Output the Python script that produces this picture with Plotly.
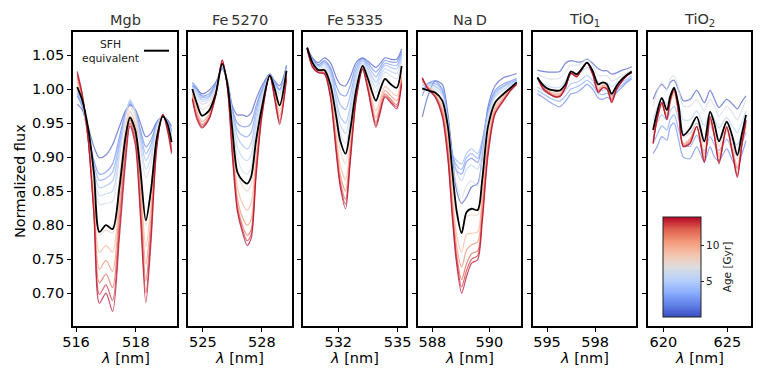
import plotly.graph_objects as go

# the page body keeps its default 8px margin, so the figure is drawn 16px smaller
# and every pixel position below is given in screenshot coordinates, shifted by OFF
OFF = 8
W, H = 763 - 2 * OFF, 382 - 2 * OFF

AGES = [0.5, 2.0, 3.0, 4.0, 5.2, 6.5, 8.0, 9.5, 11.0, 12.3, 13.2, 14.0]
AGE_MIN, AGE_MAX = 0.1, 14.0

PANEL_TITLES = ["Mgb", "Fe\u20095270", "Fe\u20095335", "Na\u2009D", "TiO<sub>1</sub>", "TiO<sub>2</sub>"]

# ---- Mgb ----
MGB_WL = [516.04, 516.2, 516.4, 516.6, 516.78, 517.0, 517.22, 517.45, 517.65, 517.8,
          517.98, 518.15, 518.33, 518.5, 518.7, 518.9, 519.05, 519.19]
MGB_FLUX = {
    0.5: [0.978, 0.970, 0.945, 0.915, 0.899, 0.903, 0.918, 0.945, 0.968, 0.976, 0.970, 0.950, 0.930, 0.935, 0.952, 0.960, 0.955, 0.945],
    2.0: [0.990, 0.975, 0.935, 0.895, 0.875, 0.878, 0.890, 0.930, 0.965, 0.978, 0.968, 0.940, 0.915, 0.925, 0.950, 0.960, 0.953, 0.940],
    3.0: [0.993, 0.978, 0.932, 0.888, 0.866, 0.869, 0.878, 0.922, 0.963, 0.980, 0.968, 0.935, 0.905, 0.918, 0.949, 0.960, 0.952, 0.938],
    4.0: [0.995, 0.980, 0.930, 0.880, 0.855, 0.858, 0.865, 0.915, 0.962, 0.982, 0.968, 0.930, 0.895, 0.910, 0.948, 0.960, 0.952, 0.937],
    5.2: [0.997, 0.982, 0.930, 0.872, 0.843, 0.846, 0.850, 0.908, 0.960, 0.984, 0.966, 0.922, 0.882, 0.900, 0.946, 0.960, 0.951, 0.934],
    6.5: [1.000, 0.985, 0.930, 0.865, 0.830, 0.832, 0.835, 0.900, 0.958, 0.985, 0.965, 0.915, 0.870, 0.890, 0.945, 0.961, 0.950, 0.930],
    8.0: [1.006, 0.987, 0.930, 0.850, 0.785, 0.793, 0.788, 0.870, 0.945, 0.975, 0.958, 0.893, 0.800, 0.850, 0.935, 0.962, 0.949, 0.926],
    9.5: [1.011, 0.988, 0.930, 0.838, 0.760, 0.770, 0.760, 0.850, 0.933, 0.967, 0.949, 0.868, 0.768, 0.828, 0.930, 0.962, 0.948, 0.921],
    11.0: [1.016, 0.990, 0.929, 0.828, 0.735, 0.748, 0.732, 0.830, 0.922, 0.960, 0.940, 0.850, 0.742, 0.810, 0.925, 0.962, 0.946, 0.915],
    12.3: [1.020, 0.992, 0.929, 0.820, 0.715, 0.728, 0.708, 0.810, 0.910, 0.954, 0.932, 0.832, 0.718, 0.795, 0.920, 0.962, 0.943, 0.911],
    13.2: [1.023, 0.993, 0.929, 0.816, 0.698, 0.712, 0.689, 0.795, 0.900, 0.950, 0.924, 0.820, 0.700, 0.783, 0.917, 0.963, 0.941, 0.908],
    14.0: [1.026, 0.995, 0.929, 0.812, 0.685, 0.700, 0.673, 0.783, 0.890, 0.946, 0.917, 0.812, 0.686, 0.773, 0.915, 0.963, 0.939, 0.905],
}
MGB_SFH = [1.003, 0.985, 0.944, 0.876, 0.790, 0.800, 0.794, 0.856, 0.929, 0.958, 0.939, 0.880, 0.807, 0.851, 0.929, 0.960, 0.949, 0.922]

# ---- Fe5270 ----
FE5270_WL = [524.46, 524.7, 524.95, 525.3, 525.65, 525.98, 526.25, 526.5, 526.75, 527.0,
             527.25, 527.45, 527.7, 528.0, 528.4, 528.65, 528.9, 529.25]
FE5270_FLUX = {
    0.5: [1.005, 1.000, 0.993, 0.998, 1.010, 1.030, 1.010, 0.975, 0.962, 0.962, 0.960, 0.965, 0.985, 1.005, 1.022, 1.012, 1.005, 1.035],
    2.0: [1.010, 1.002, 0.990, 0.993, 1.008, 1.030, 1.010, 0.970, 0.950, 0.945, 0.945, 0.950, 0.975, 1.000, 1.022, 1.010, 1.000, 1.033],
    3.0: [1.008, 0.999, 0.988, 0.990, 1.006, 1.031, 1.011, 0.968, 0.940, 0.932, 0.930, 0.936, 0.968, 0.998, 1.022, 1.009, 0.999, 1.032],
    4.0: [1.005, 0.995, 0.985, 0.988, 1.005, 1.032, 1.012, 0.965, 0.930, 0.918, 0.912, 0.920, 0.960, 0.995, 1.022, 1.008, 0.998, 1.032],
    5.2: [1.003, 0.992, 0.982, 0.985, 1.003, 1.033, 1.011, 0.960, 0.915, 0.900, 0.895, 0.903, 0.950, 0.990, 1.021, 1.006, 0.994, 1.031],
    6.5: [1.000, 0.988, 0.978, 0.982, 1.000, 1.034, 1.010, 0.955, 0.900, 0.880, 0.875, 0.885, 0.940, 0.985, 1.021, 1.004, 0.990, 1.030],
    8.0: [0.998, 0.982, 0.970, 0.976, 0.998, 1.036, 1.008, 0.942, 0.880, 0.858, 0.850, 0.860, 0.922, 0.980, 1.020, 0.998, 0.980, 1.027],
    9.5: [0.994, 0.973, 0.960, 0.968, 0.996, 1.038, 1.006, 0.928, 0.857, 0.832, 0.822, 0.832, 0.903, 0.975, 1.020, 0.994, 0.968, 1.024],
    11.0: [0.991, 0.967, 0.952, 0.962, 0.994, 1.040, 1.004, 0.918, 0.840, 0.812, 0.800, 0.808, 0.890, 0.970, 1.020, 0.991, 0.960, 1.021],
    12.3: [0.988, 0.961, 0.948, 0.958, 0.992, 1.041, 1.002, 0.910, 0.830, 0.800, 0.785, 0.793, 0.880, 0.965, 1.020, 0.988, 0.954, 1.018],
    13.2: [0.986, 0.958, 0.945, 0.956, 0.991, 1.042, 1.001, 0.905, 0.824, 0.794, 0.777, 0.786, 0.875, 0.962, 1.020, 0.986, 0.951, 1.016],
    14.0: [0.985, 0.955, 0.943, 0.955, 0.990, 1.043, 1.000, 0.900, 0.820, 0.790, 0.770, 0.780, 0.870, 0.960, 1.020, 0.985, 0.948, 1.015],
}
FE5270_SFH = [1.000, 0.978, 0.961, 0.968, 0.993, 1.037, 1.007, 0.939, 0.878, 0.866, 0.861, 0.871, 0.924, 0.973, 1.020, 1.000, 0.976, 1.027]

# ---- Fe5335 ----
FE5335_WL = [530.43, 530.7, 531.0, 531.3, 531.6, 531.9, 532.1, 532.37, 532.6, 532.9,
             533.23, 533.5, 533.9, 534.1, 534.36, 534.65, 534.95, 535.2]
FE5335_FLUX = {
    0.5: [1.061, 1.046, 1.039, 1.046, 1.039, 1.017, 1.007, 1.005, 1.017, 1.039, 1.046, 1.041, 1.032, 1.037, 1.046, 1.044, 1.044, 1.059],
    2.0: [1.061, 1.045, 1.036, 1.042, 1.032, 1.005, 0.993, 0.990, 1.005, 1.034, 1.045, 1.038, 1.025, 1.032, 1.042, 1.040, 1.040, 1.055],
    3.0: [1.061, 1.044, 1.035, 1.040, 1.029, 0.995, 0.977, 0.970, 0.990, 1.028, 1.044, 1.034, 1.018, 1.027, 1.038, 1.036, 1.035, 1.052],
    4.0: [1.061, 1.043, 1.033, 1.038, 1.025, 0.985, 0.960, 0.950, 0.975, 1.022, 1.042, 1.030, 1.010, 1.022, 1.035, 1.032, 1.030, 1.050],
    5.2: [1.061, 1.042, 1.032, 1.036, 1.020, 0.978, 0.948, 0.935, 0.965, 1.016, 1.040, 1.026, 1.003, 1.016, 1.030, 1.026, 1.023, 1.046],
    6.5: [1.061, 1.040, 1.030, 1.033, 1.015, 0.970, 0.935, 0.920, 0.955, 1.010, 1.038, 1.022, 0.995, 1.010, 1.025, 1.020, 1.015, 1.042],
    8.0: [1.060, 1.038, 1.028, 1.030, 1.008, 0.950, 0.910, 0.890, 0.935, 1.002, 1.036, 1.015, 0.982, 0.996, 1.013, 1.008, 1.002, 1.032],
    9.5: [1.060, 1.036, 1.027, 1.027, 1.000, 0.933, 0.888, 0.866, 0.918, 0.994, 1.033, 1.009, 0.968, 0.983, 1.004, 0.997, 0.990, 1.024],
    11.0: [1.060, 1.035, 1.026, 1.025, 0.996, 0.922, 0.874, 0.850, 0.908, 0.990, 1.031, 1.005, 0.958, 0.975, 0.998, 0.990, 0.983, 1.018],
    12.3: [1.060, 1.034, 1.025, 1.024, 0.992, 0.914, 0.865, 0.838, 0.900, 0.987, 1.030, 1.002, 0.951, 0.969, 0.993, 0.985, 0.977, 1.013],
    13.2: [1.059, 1.033, 1.024, 1.023, 0.990, 0.909, 0.860, 0.831, 0.895, 0.985, 1.029, 1.000, 0.947, 0.966, 0.990, 0.982, 0.974, 1.010],
    14.0: [1.059, 1.032, 1.024, 1.022, 0.988, 0.905, 0.856, 0.824, 0.890, 0.983, 1.029, 0.998, 0.944, 0.963, 0.988, 0.980, 0.971, 1.007],
}
FE5335_SFH = [1.061, 1.039, 1.028, 1.028, 1.007, 0.959, 0.924, 0.905, 0.939, 0.998, 1.034, 1.015, 0.983, 0.998, 1.015, 1.007, 1.002, 1.034]

# ---- Na D ----
NAD_WL = [587.65, 587.85, 588.1, 588.35, 588.55, 588.7, 588.85, 589.03, 589.2, 589.38,
          589.59, 589.75, 589.95, 590.2, 590.5, 590.75, 590.96]
NAD_FLUX = {
    0.5: [0.959, 0.990, 1.012, 1.007, 0.963, 0.905, 0.851, 0.832, 0.841, 0.856, 0.861, 0.900, 0.973, 1.005, 1.017, 1.020, 1.023],
    2.0: [0.990, 1.008, 1.012, 1.000, 0.955, 0.905, 0.880, 0.875, 0.893, 0.898, 0.892, 0.920, 0.968, 0.998, 1.008, 1.012, 1.016],
    3.0: [0.998, 1.008, 1.008, 0.998, 0.955, 0.905, 0.888, 0.882, 0.899, 0.905, 0.898, 0.922, 0.966, 0.995, 1.005, 1.010, 1.014],
    4.0: [1.005, 1.008, 1.005, 0.995, 0.955, 0.905, 0.895, 0.890, 0.905, 0.912, 0.905, 0.925, 0.965, 0.992, 1.003, 1.008, 1.013],
    5.2: [1.008, 1.006, 1.003, 0.993, 0.953, 0.898, 0.878, 0.865, 0.882, 0.888, 0.882, 0.912, 0.960, 0.990, 1.000, 1.006, 1.012],
    6.5: [1.010, 1.005, 1.000, 0.990, 0.950, 0.890, 0.860, 0.840, 0.858, 0.865, 0.858, 0.900, 0.955, 0.988, 0.998, 1.004, 1.011],
    8.0: [1.011, 1.004, 0.997, 0.983, 0.935, 0.865, 0.815, 0.790, 0.812, 0.815, 0.815, 0.868, 0.940, 0.980, 0.993, 1.002, 1.010],
    9.5: [1.012, 1.003, 0.994, 0.976, 0.923, 0.847, 0.787, 0.760, 0.786, 0.788, 0.790, 0.848, 0.928, 0.974, 0.990, 1.000, 1.009],
    11.0: [1.014, 1.002, 0.991, 0.970, 0.913, 0.834, 0.770, 0.738, 0.763, 0.771, 0.775, 0.831, 0.918, 0.970, 0.987, 0.999, 1.008],
    12.3: [1.015, 1.001, 0.990, 0.965, 0.905, 0.823, 0.757, 0.720, 0.743, 0.758, 0.762, 0.816, 0.910, 0.966, 0.985, 0.999, 1.008],
    13.2: [1.016, 1.000, 0.989, 0.962, 0.900, 0.817, 0.750, 0.709, 0.733, 0.750, 0.755, 0.809, 0.905, 0.964, 0.984, 0.998, 1.007],
    14.0: [1.017, 1.000, 0.988, 0.959, 0.895, 0.812, 0.744, 0.700, 0.724, 0.744, 0.749, 0.803, 0.900, 0.963, 0.983, 0.998, 1.007],
}
NAD_SFH = [1.001, 0.998, 0.995, 0.983, 0.944, 0.880, 0.822, 0.788, 0.819, 0.824, 0.822, 0.866, 0.944, 0.980, 0.993, 1.002, 1.010]

# ---- TiO1 ----
TIO1_WL = [594.4, 594.75, 595.1, 595.45, 595.8, 596.15, 596.5, 596.85, 597.15, 597.5,
           597.85, 598.2, 598.5, 598.75, 599.04, 599.35, 599.7, 600.0, 600.29]
TIO1_FLUX = {
    0.5: [1.028, 1.026, 1.025, 1.025, 1.026, 1.038, 1.042, 1.040, 1.040, 1.044, 1.038, 1.030, 1.027, 1.027, 1.022, 1.024, 1.028, 1.030, 1.033],
    2.0: [0.993, 0.988, 0.982, 0.977, 0.974, 0.982, 0.993, 0.995, 1.000, 1.007, 1.000, 0.987, 0.985, 0.988, 0.985, 0.995, 1.003, 1.010, 1.015],
    3.0: [0.998, 0.993, 0.988, 0.984, 0.982, 0.990, 1.000, 1.003, 1.007, 1.013, 1.006, 0.994, 0.992, 0.994, 0.990, 0.999, 1.006, 1.012, 1.017],
    4.0: [1.003, 0.998, 0.993, 0.990, 0.990, 0.998, 1.008, 1.010, 1.014, 1.020, 1.012, 1.000, 0.998, 1.000, 0.995, 1.003, 1.010, 1.015, 1.020],
    5.2: [1.012, 1.008, 1.004, 1.002, 1.003, 1.012, 1.022, 1.023, 1.026, 1.032, 1.024, 1.010, 1.009, 1.010, 1.004, 1.009, 1.015, 1.020, 1.024],
    6.5: [1.022, 1.018, 1.015, 1.015, 1.016, 1.025, 1.035, 1.035, 1.038, 1.045, 1.035, 1.020, 1.020, 1.020, 1.012, 1.015, 1.020, 1.024, 1.028],
    8.0: [1.018, 1.006, 0.999, 0.996, 0.996, 1.007, 1.026, 1.022, 1.030, 1.040, 1.027, 1.005, 1.008, 1.006, 0.992, 1.004, 1.015, 1.021, 1.026],
    9.5: [1.017, 1.004, 0.997, 0.994, 0.994, 1.005, 1.025, 1.020, 1.029, 1.039, 1.025, 1.002, 1.006, 1.004, 0.988, 1.003, 1.014, 1.021, 1.025],
    11.0: [1.017, 1.003, 0.996, 0.992, 0.992, 1.004, 1.024, 1.019, 1.028, 1.039, 1.024, 0.999, 1.005, 1.003, 0.985, 1.002, 1.013, 1.020, 1.024],
    12.3: [1.017, 1.002, 0.995, 0.990, 0.990, 1.003, 1.024, 1.019, 1.028, 1.039, 1.023, 0.997, 1.003, 1.001, 0.983, 1.001, 1.013, 1.020, 1.024],
    13.2: [1.017, 1.001, 0.994, 0.989, 0.989, 1.002, 1.023, 1.018, 1.028, 1.039, 1.022, 0.996, 1.002, 1.000, 0.981, 1.000, 1.012, 1.020, 1.024],
    14.0: [1.017, 1.000, 0.993, 0.989, 0.989, 1.002, 1.023, 1.018, 1.028, 1.039, 1.022, 0.995, 1.002, 1.000, 0.980, 1.000, 1.012, 1.020, 1.024],
}
TIO1_SFH = [1.017, 1.006, 1.000, 0.998, 0.998, 1.007, 1.026, 1.022, 1.029, 1.039, 1.027, 1.007, 1.010, 1.007, 0.993, 1.005, 1.015, 1.021, 1.026]

# ---- TiO2 ----
TIO2_WL = [619.2, 619.5, 619.88, 620.27, 620.55, 620.84, 621.2, 621.56, 622.09, 622.61,
           623.2, 623.65, 624.0, 624.35, 624.95, 625.4, 625.78, 626.15, 626.46]
TIO2_FLUX = {
    0.5: [0.985, 0.998, 1.007, 1.000, 1.010, 1.013, 0.998, 0.983, 0.985, 0.998, 0.980, 0.998, 0.985, 0.973, 0.985, 0.978, 0.971, 0.982, 0.990],
    2.0: [0.905, 0.915, 0.930, 0.925, 0.945, 0.950, 0.925, 0.900, 0.898, 0.915, 0.893, 0.915, 0.900, 0.895, 0.912, 0.895, 0.885, 0.905, 0.924],
    3.0: [0.920, 0.932, 0.946, 0.940, 0.956, 0.962, 0.940, 0.918, 0.916, 0.932, 0.909, 0.930, 0.918, 0.910, 0.926, 0.910, 0.902, 0.920, 0.937],
    4.0: [0.935, 0.950, 0.962, 0.955, 0.968, 0.975, 0.955, 0.935, 0.935, 0.950, 0.925, 0.945, 0.935, 0.925, 0.940, 0.925, 0.918, 0.935, 0.950],
    5.2: [0.955, 0.972, 0.986, 0.978, 0.992, 0.998, 0.978, 0.955, 0.955, 0.968, 0.946, 0.965, 0.955, 0.943, 0.958, 0.945, 0.936, 0.952, 0.968],
    6.5: [0.975, 0.995, 1.010, 1.000, 1.015, 1.020, 1.000, 0.975, 0.975, 0.985, 0.968, 0.985, 0.975, 0.960, 0.975, 0.965, 0.955, 0.970, 0.985],
    8.0: [0.935, 0.958, 0.978, 0.965, 0.985, 0.998, 0.968, 0.930, 0.935, 0.950, 0.915, 0.955, 0.938, 0.915, 0.945, 0.920, 0.898, 0.928, 0.952],
    9.5: [0.925, 0.952, 0.975, 0.960, 0.980, 0.993, 0.962, 0.920, 0.928, 0.945, 0.905, 0.950, 0.930, 0.905, 0.938, 0.912, 0.888, 0.920, 0.945],
    11.0: [0.923, 0.954, 0.978, 0.959, 0.983, 0.996, 0.964, 0.919, 0.926, 0.945, 0.900, 0.953, 0.930, 0.900, 0.941, 0.910, 0.882, 0.920, 0.948],
    12.3: [0.921, 0.955, 0.980, 0.957, 0.985, 0.999, 0.965, 0.917, 0.923, 0.945, 0.895, 0.957, 0.930, 0.894, 0.943, 0.907, 0.875, 0.920, 0.952],
    13.2: [0.920, 0.955, 0.980, 0.956, 0.985, 1.000, 0.965, 0.916, 0.921, 0.945, 0.893, 0.959, 0.930, 0.892, 0.944, 0.906, 0.872, 0.920, 0.954],
    14.0: [0.920, 0.955, 0.980, 0.955, 0.985, 1.000, 0.965, 0.915, 0.920, 0.945, 0.892, 0.960, 0.930, 0.890, 0.945, 0.905, 0.870, 0.920, 0.955],
}
TIO2_SFH = [0.940, 0.965, 0.987, 0.969, 0.990, 1.002, 0.975, 0.932, 0.942, 0.959, 0.923, 0.967, 0.948, 0.923, 0.952, 0.930, 0.903, 0.935, 0.962]

PANELS = [
    (MGB_WL, MGB_FLUX, MGB_SFH),
    (FE5270_WL, FE5270_FLUX, FE5270_SFH),
    (FE5335_WL, FE5335_FLUX, FE5335_SFH),
    (NAD_WL, NAD_FLUX, NAD_SFH),
    (TIO1_WL, TIO1_FLUX, TIO1_SFH),
    (TIO2_WL, TIO2_FLUX, TIO2_SFH),
]

X_RANGES = [[515.9, 519.37], [524.24, 529.53], [530.22, 535.42],
            [587.5, 591.11], [594.125, 600.56], [618.8, 626.85]]
X_TICKS = [[516, 518], [525, 528], [532, 535], [588, 590], [595, 598], [620, 625]]
Y_RANGE = [0.6515, 1.084]
Y_TICKS = [0.70, 0.75, 0.80, 0.85, 0.90, 0.95, 1.00, 1.05]

# coolwarm key colours
COOLWARM = [
    (0.000, (59, 76, 192)),
    (0.125, (98, 130, 234)),
    (0.250, (141, 176, 254)),
    (0.375, (184, 208, 249)),
    (0.500, (221, 221, 221)),
    (0.625, (245, 196, 173)),
    (0.750, (244, 154, 123)),
    (0.875, (222, 96, 77)),
    (1.000, (180, 4, 38)),
]


def coolwarm(t, alpha=1.0):
    t = min(max(t, 0.0), 1.0)
    for (t0, c0), (t1, c1) in zip(COOLWARM[:-1], COOLWARM[1:]):
        if t <= t1:
            f = (t - t0) / (t1 - t0)
            rgb = [round(a + (b - a) * f) for a, b in zip(c0, c1)]
            return f"rgba({rgb[0]},{rgb[1]},{rgb[2]},{alpha})"
    return f"rgba(180,4,38,{alpha})"


def px_x(px):
    return (px - OFF) / W


def px_y(py):
    return 1 - (py - OFF) / H


# panel pixel boxes (screenshot coordinates)
PANEL_PX = [(73, 177), (188, 292), (303, 406), (418, 521), (533, 636), (648, 751)]
TOP_PX, BOT_PX = 32, 326
FONT = "DejaVu Sans"

fig = go.Figure()

for i, (wl, flux, sfh) in enumerate(PANELS):
    n = "" if i == 0 else str(i + 1)
    for age in AGES:
        t = (age - AGE_MIN) / (AGE_MAX - AGE_MIN)
        fig.add_trace(go.Scatter(
            x=wl, y=flux[age], mode="lines",
            line=dict(color=coolwarm(t, 0.7), width=1.2, shape="spline", smoothing=0.8),
            xaxis="x" + n, yaxis="y" + n, hoverinfo="skip", showlegend=False,
        ))
    fig.add_trace(go.Scatter(
        x=wl, y=sfh, mode="lines", name="SFH equivalent",
        line=dict(color="black", width=1.8, shape="spline", smoothing=0.8),
        xaxis="x" + n, yaxis="y" + n, showlegend=False,
    ))

# colorbar carrier (point sits outside the visible y range)
fig.add_trace(go.Scatter(
    x=[622], y=[0.3], mode="markers", xaxis="x6", yaxis="y6", showlegend=False,
    hoverinfo="skip",
    marker=dict(
        color=[AGE_MIN], cmin=AGE_MIN, cmax=AGE_MAX, size=1,
        colorscale=[[t, coolwarm(t)] for t, _ in COOLWARM],
        showscale=True,
        colorbar=dict(
            x=px_x(663), xanchor="left", xpad=0,
            y=px_y(267), yanchor="middle", ypad=0,
            thickness=38, len=100 / H, lenmode="fraction",
            outlinewidth=1, outlinecolor="#222",
            tickvals=[5, 10], ticks="outside", ticklen=3, tickcolor="#222",
            tickfont=dict(family=FONT, size=10.5, color="#222"),
            title=dict(text="Age [Gyr]", side="right", font=dict(family=FONT, size=10.5, color="#222")),
        ),
    ),
))

layout = dict(
    width=W, height=H,
    margin=dict(l=0, r=0, t=0, b=0, pad=0, autoexpand=False),
    paper_bgcolor="white", plot_bgcolor="white",
    showlegend=False,
    font=dict(family=FONT, color="black"),
)

annotations = []
for i, (px0, px1) in enumerate(PANEL_PX):
    n = "" if i == 0 else str(i + 1)
    layout["xaxis" + n] = dict(
        domain=[px_x(px0), px_x(px1)], anchor="y" + n, range=X_RANGES[i], automargin=False,
        tickvals=X_TICKS[i], ticks="outside", ticklen=4, tickwidth=1.2, tickcolor="black",
        ticklabelstandoff=-2,
        showline=True, linecolor="black", linewidth=1.6, mirror=True,
        showgrid=False, zeroline=False,
        tickfont=dict(family=FONT, size=14.5, color="black"),
    )
    layout["yaxis" + n] = dict(
        domain=[px_y(BOT_PX), px_y(TOP_PX)], anchor="x" + n, range=Y_RANGE, automargin=False,
        tickvals=Y_TICKS, ticktext=[f"{v:.2f}" for v in Y_TICKS],
        ticks="outside", ticklen=4, tickwidth=1.2, tickcolor="black",
        showticklabels=(i == 0),
        showline=True, linecolor="black", linewidth=1.6, mirror=True,
        showgrid=False, zeroline=False,
        tickfont=dict(family=FONT, size=14.5, color="black"),
    )
    cx = px_x((px0 + px1) / 2)
    annotations.append(dict(
        x=cx, y=px_y(20), xref="paper", yref="paper", text=PANEL_TITLES[i],
        showarrow=False, xanchor="center", yanchor="middle",
        font=dict(family=FONT, size=14.5, color="#333"),
    ))
    annotations.append(dict(
        x=cx, y=px_y(358), xref="paper", yref="paper", text="<i>λ</i> [nm]",
        showarrow=False, xanchor="center", yanchor="middle",
        font=dict(family=FONT, size=14.5, color="black"),
    ))

annotations.append(dict(
    x=px_x(20), y=px_y(181), xref="paper", yref="paper", text="Normalized flux",
    showarrow=False, textangle=-90, xanchor="center", yanchor="middle",
    font=dict(family=FONT, size=14.5, color="black"),
))
annotations.append(dict(
    x=px_x(110), y=px_y(51), xref="paper", yref="paper", text="SFH<br>equivalent",
    showarrow=False, xanchor="center", yanchor="middle", align="center",
    font=dict(family=FONT, size=10.8, color="#222"),
))
layout["annotations"] = annotations
layout["shapes"] = [dict(
    type="line", xref="paper", yref="paper",
    x0=px_x(144), x1=px_x(169), y0=px_y(50.7), y1=px_y(50.7),
    line=dict(color="black", width=2),
)]

fig.update_layout(**layout)
fig.write_html("out.html")
